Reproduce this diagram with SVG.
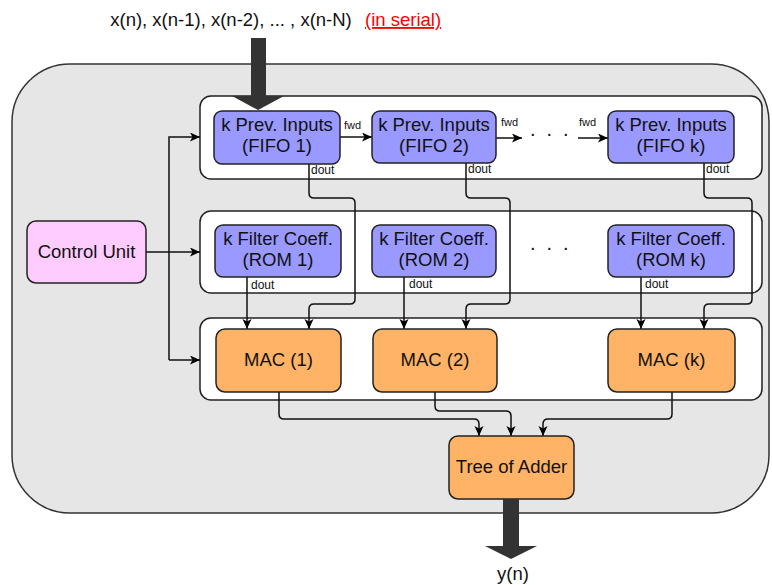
<svg xmlns="http://www.w3.org/2000/svg" width="772" height="585" viewBox="0 0 772 585">
  <defs>
    <marker id="arrow" markerUnits="userSpaceOnUse" markerWidth="11" markerHeight="10" refX="10" refY="4.5" orient="auto">
      <path d="M0,0 L10,4.5 L0,9 L2.5,4.5 z" fill="#000"/>
    </marker>
    <style>
      .frame { fill: #e6e6e6; stroke: #333; stroke-width: 1.5; }
      .band { fill: #fff; stroke: #222; stroke-width: 1.5; }
      .blue { fill: #9999ff; stroke: #222; stroke-width: 1.5; }
      .orange { fill: #ffb366; stroke: #222; stroke-width: 1.5; }
      .pink { fill: #ffccff; stroke: #222; stroke-width: 1.5; }
      .label { font-family: "Liberation Sans", Arial, sans-serif; font-size: 18.5px; fill: #111; text-anchor: middle; }
      .small { font-family: "Liberation Sans", Arial, sans-serif; font-size: 12px; fill: #111; }
      .tiny { font-family: "Liberation Sans", Arial, sans-serif; font-size: 11px; fill: #111; }
      .dots { font-family: "Liberation Sans", Arial, sans-serif; font-size: 20px; fill: #111; }
      .wire { fill: none; stroke: #111; stroke-width: 1.5; }
      .bus { fill: #333; stroke: none; }
    </style>
  </defs>

  <!-- outer system frame -->
  <rect class="frame" x="12" y="64" width="757" height="449" rx="58"/>

  <!-- stage bands -->
  <rect class="band" x="200" y="96" width="562" height="83" rx="11"/>
  <rect class="band" x="200" y="211" width="562" height="82" rx="11"/>
  <rect class="band" x="200" y="318" width="562" height="82" rx="11"/>

  <!-- serial input -->
  <g id="input">
    <text class="label" x="231" y="26">x(n), x(n-1), x(n-2), ... , x(n-N)</text>
    <text x="365" y="26" font-family="Liberation Sans, Arial, sans-serif" font-size="18.5" fill="#ff0000" text-decoration="underline">(in serial)</text>
    <polygon class="bus" points="251,38 266,38 266,96 284,96 258,110 232,96 251,96"/>
  </g>

  <!-- connectors -->
  <g id="connectors">
    <!-- control unit fan-out -->
    <path class="wire" d="M146,252 H200" marker-end="url(#arrow)"/>
    <path class="wire" d="M169,360 V137 H200" marker-end="url(#arrow)"/>
    <path class="wire" d="M169,360 H200" marker-end="url(#arrow)"/>

    <!-- fwd chain -->
    <path class="wire" d="M340,137 H372" marker-end="url(#arrow)"/>
    <path class="wire" d="M496,138 H522" marker-end="url(#arrow)"/>
    <path class="wire" d="M578,138 H608" marker-end="url(#arrow)"/>

    <!-- FIFO dout to MAC -->
    <path class="wire" d="M309,164 V193 Q309,198 314,198 H350 Q355,198 355,203 V299 Q355,304 350,304 H314 Q309,304 309,309 V329" marker-end="url(#arrow)"/>
    <path class="wire" d="M466,163 V193 Q466,198 471,198 H505 Q510,198 510,203 V299 Q510,304 505,304 H471 Q466,304 466,309 V329" marker-end="url(#arrow)"/>
    <path class="wire" d="M704,163 V193 Q704,198 709,198 H747 Q752,198 752,203 V299 Q752,304 747,304 H709 Q704,304 704,309 V329" marker-end="url(#arrow)"/>

    <!-- ROM dout to MAC -->
    <path class="wire" d="M247,277 V329" marker-end="url(#arrow)"/>
    <path class="wire" d="M404,277 V329" marker-end="url(#arrow)"/>
    <path class="wire" d="M641,277 V329" marker-end="url(#arrow)"/>

    <!-- MAC to adder tree -->
    <path class="wire" d="M279,392 V414 Q279,419 284,419 H474 Q479,419 479,424 V436" marker-end="url(#arrow)"/>
    <path class="wire" d="M435,392 V406 Q435,411 440,411 H506 Q511,411 511,416 V436" marker-end="url(#arrow)"/>
    <path class="wire" d="M672,392 V414 Q672,419 667,419 H548 Q543,419 543,424 V436" marker-end="url(#arrow)"/>

    <!-- connector labels -->
    <text class="tiny" x="344" y="129">fwd</text>
    <text class="tiny" x="501" y="126">fwd</text>
    <text class="tiny" x="579" y="126">fwd</text>
    <text class="small" x="311" y="174">dout</text>
    <text class="small" x="468" y="173">dout</text>
    <text class="small" x="706" y="173">dout</text>
    <text class="small" x="251" y="289">dout</text>
    <text class="small" x="409" y="288">dout</text>
    <text class="small" x="645" y="288">dout</text>
  </g>

  <!-- ellipsis between stages -->
  <text class="dots" x="530 546.5 563" y="136">...</text>
  <text class="dots" x="530 546.5 563" y="250">...</text>

  <g id="control-unit">
    <rect class="pink" x="27" y="221" width="119" height="62" rx="9"/>
    <text class="label" x="86.5" y="258">Control Unit</text>
  </g>

  <g id="fifo-1">
    <rect class="blue" x="214" y="111" width="126" height="53" rx="8"/>
    <text class="label" x="277" y="131">k Prev. Inputs</text>
    <text class="label" x="277" y="152">(FIFO 1)</text>
  </g>
  <g id="fifo-2">
    <rect class="blue" x="372" y="111" width="124" height="52" rx="8"/>
    <text class="label" x="434" y="131">k Prev. Inputs</text>
    <text class="label" x="434" y="152">(FIFO 2)</text>
  </g>
  <g id="fifo-k">
    <rect class="blue" x="608" y="111" width="126" height="52" rx="8"/>
    <text class="label" x="671" y="131">k Prev. Inputs</text>
    <text class="label" x="671" y="152">(FIFO k)</text>
  </g>

  <g id="rom-1">
    <rect class="blue" x="215" y="225" width="126" height="52" rx="8"/>
    <text class="label" x="278" y="245">k Filter Coeff.</text>
    <text class="label" x="278" y="266">(ROM 1)</text>
  </g>
  <g id="rom-2">
    <rect class="blue" x="372" y="225" width="124" height="52" rx="8"/>
    <text class="label" x="434" y="245">k Filter Coeff.</text>
    <text class="label" x="434" y="266">(ROM 2)</text>
  </g>
  <g id="rom-k">
    <rect class="blue" x="608" y="225" width="126" height="52" rx="8"/>
    <text class="label" x="671" y="245">k Filter Coeff.</text>
    <text class="label" x="671" y="266">(ROM k)</text>
  </g>

  <g id="mac-1">
    <rect class="orange" x="216" y="329" width="125" height="63" rx="9"/>
    <text class="label" x="278.5" y="366">MAC (1)</text>
  </g>
  <g id="mac-2">
    <rect class="orange" x="373" y="329" width="124" height="63" rx="9"/>
    <text class="label" x="435" y="366">MAC (2)</text>
  </g>
  <g id="mac-k">
    <rect class="orange" x="608" y="329" width="127" height="63" rx="9"/>
    <text class="label" x="671.5" y="366">MAC (k)</text>
  </g>

  <g id="adder-tree">
    <rect class="orange" x="449" y="436" width="125" height="63" rx="9"/>
    <text class="label" x="511.5" y="473">Tree of Adder</text>
  </g>

  <!-- filtered output -->
  <g id="output">
    <polygon class="bus" points="503,499 519,499 519,546 537,546 511,559 485,546 503,546"/>
    <text class="label" x="513" y="580">y(n)</text>
  </g>
</svg>
